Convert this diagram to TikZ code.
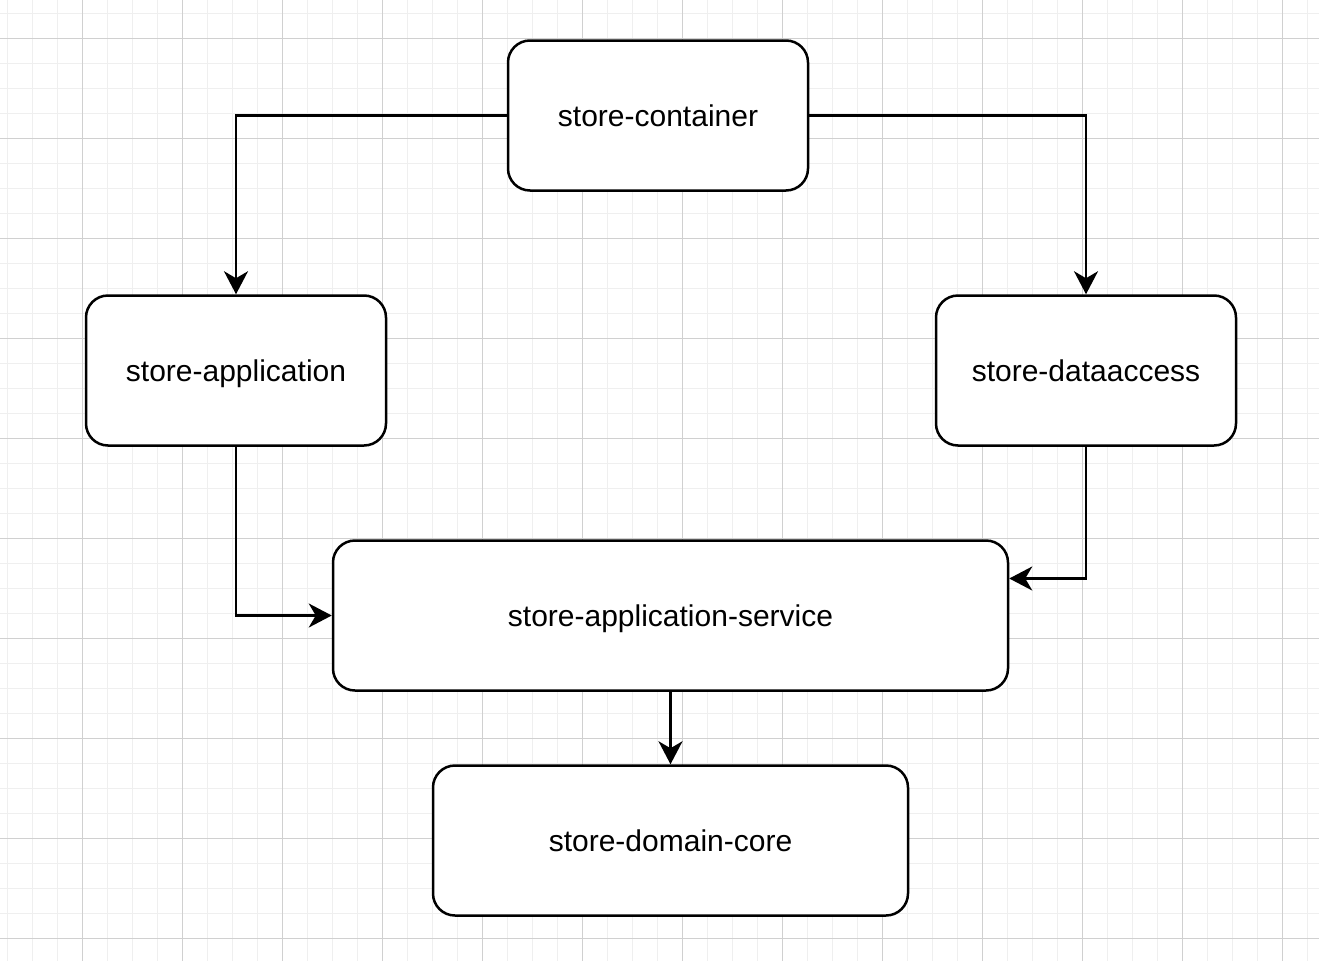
\documentclass[tikz,border=0pt]{standalone}
\usepackage{fontspec}
\setmainfont{Liberation Sans}
\usetikzlibrary{arrows.meta}
\definecolor{gridmajor}{HTML}{D0D0D0}
\definecolor{gridminor}{HTML}{EFEFEF}

\tikzset{
	module/.style = {draw, fill=white, line width=2.5pt, rounded corners=22pt, align=center,
		minimum height=150pt, text height=27pt, text depth=5pt, font=\fontsize{30}{36}\selectfont},
	dep/.style = {->, line width=2.5pt}
}

\begin{document}
\begin{tikzpicture}[x=1pt, y=-1pt, >={Stealth[length=23pt, width=24pt, inset=7pt]}]
		\useasboundingbox (0, 0) rectangle (1319, 961);
		\fill [white] (0, 0) rectangle (1319, 961);
		% grid
		\foreach \x in {7, 32, ..., 1319} \draw [gridminor, line width=1pt] (\x, 0) -- (\x, 961);
		\foreach \y in {13, 38, ..., 961} \draw [gridminor, line width=1pt] (0, \y) -- (1319, \y);
		\foreach \x in {82, 182, ..., 1319} \draw [gridmajor, line width=1pt] (\x, 0) -- (\x, 961);
		\foreach \y in {38, 138, ..., 961} \draw [gridmajor, line width=1pt] (0, \y) -- (1319, \y);

		% modules
		\node [module, minimum width=300pt] (container) at (658, 115.5) {store-container};
		\node [module, minimum width=300pt] (application) at (236, 370.5) {store-application};
		\node [module, minimum width=300pt] (dataaccess) at (1086, 370.5) {store-dataaccess};
		\node [module, minimum width=675pt] (service) at (670.5, 615.5) {store-application-service};
		\node [module, minimum width=475pt] (core) at (670.5, 840.5) {store-domain-core};

		% dependencies
		\draw [dep] (container.west) -| (application.north);
		\draw [dep] (container.east) -| (dataaccess.north);
		\draw [dep] (application.south) |- (service.west);
		\draw [dep] (dataaccess.south) |- ([yshift=37pt]service.east);
		\draw [dep] (service.south) -- (core.north);
	\end{tikzpicture}
\end{document}
